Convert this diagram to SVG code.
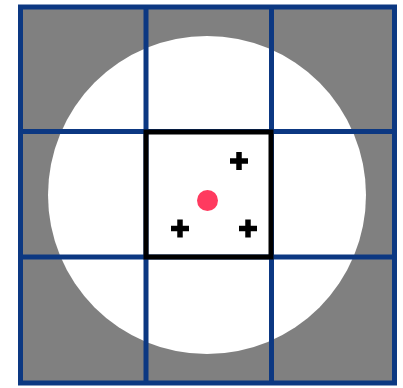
<svg xmlns="http://www.w3.org/2000/svg" width="403" height="388" viewBox="0 0 403 388">
  <style>
    .grid { fill: none; stroke: #0c3882; stroke-width: 5; }
    .cross { stroke: #000; stroke-width: 5.5; fill: none; }
  </style>
  <defs>
    <g id="plus">
      <line class="cross" x1="-9" y1="0" x2="9" y2="0"/>
      <line class="cross" x1="0" y1="-9" x2="0" y2="9"/>
    </g>
  </defs>
  <rect x="0" y="0" width="403" height="388" fill="#ffffff"/>
  <rect x="20.5" y="7" width="374" height="376" fill="#808080"/>
  <circle cx="207" cy="195" r="159" fill="#ffffff"/>
  <g id="grid">
    <rect class="grid" x="20.5" y="7" width="374" height="376"/>
    <line class="grid" x1="146" y1="7" x2="146" y2="383"/>
    <line class="grid" x1="271.5" y1="7" x2="271.5" y2="383"/>
    <line class="grid" x1="20.5" y1="131.5" x2="394.5" y2="131.5"/>
    <line class="grid" x1="20.5" y1="257" x2="394.5" y2="257"/>
  </g>
  <rect id="center-cell" x="146" y="132" width="125" height="125" fill="none" stroke="#000" stroke-width="5"/>
  <use href="#plus" x="239" y="161"/>
  <use href="#plus" x="180" y="228.5"/>
  <use href="#plus" x="248" y="228.5"/>
  <circle id="dot" cx="207.5" cy="200.5" r="10.5" fill="#ff3a5f"/>
</svg>
